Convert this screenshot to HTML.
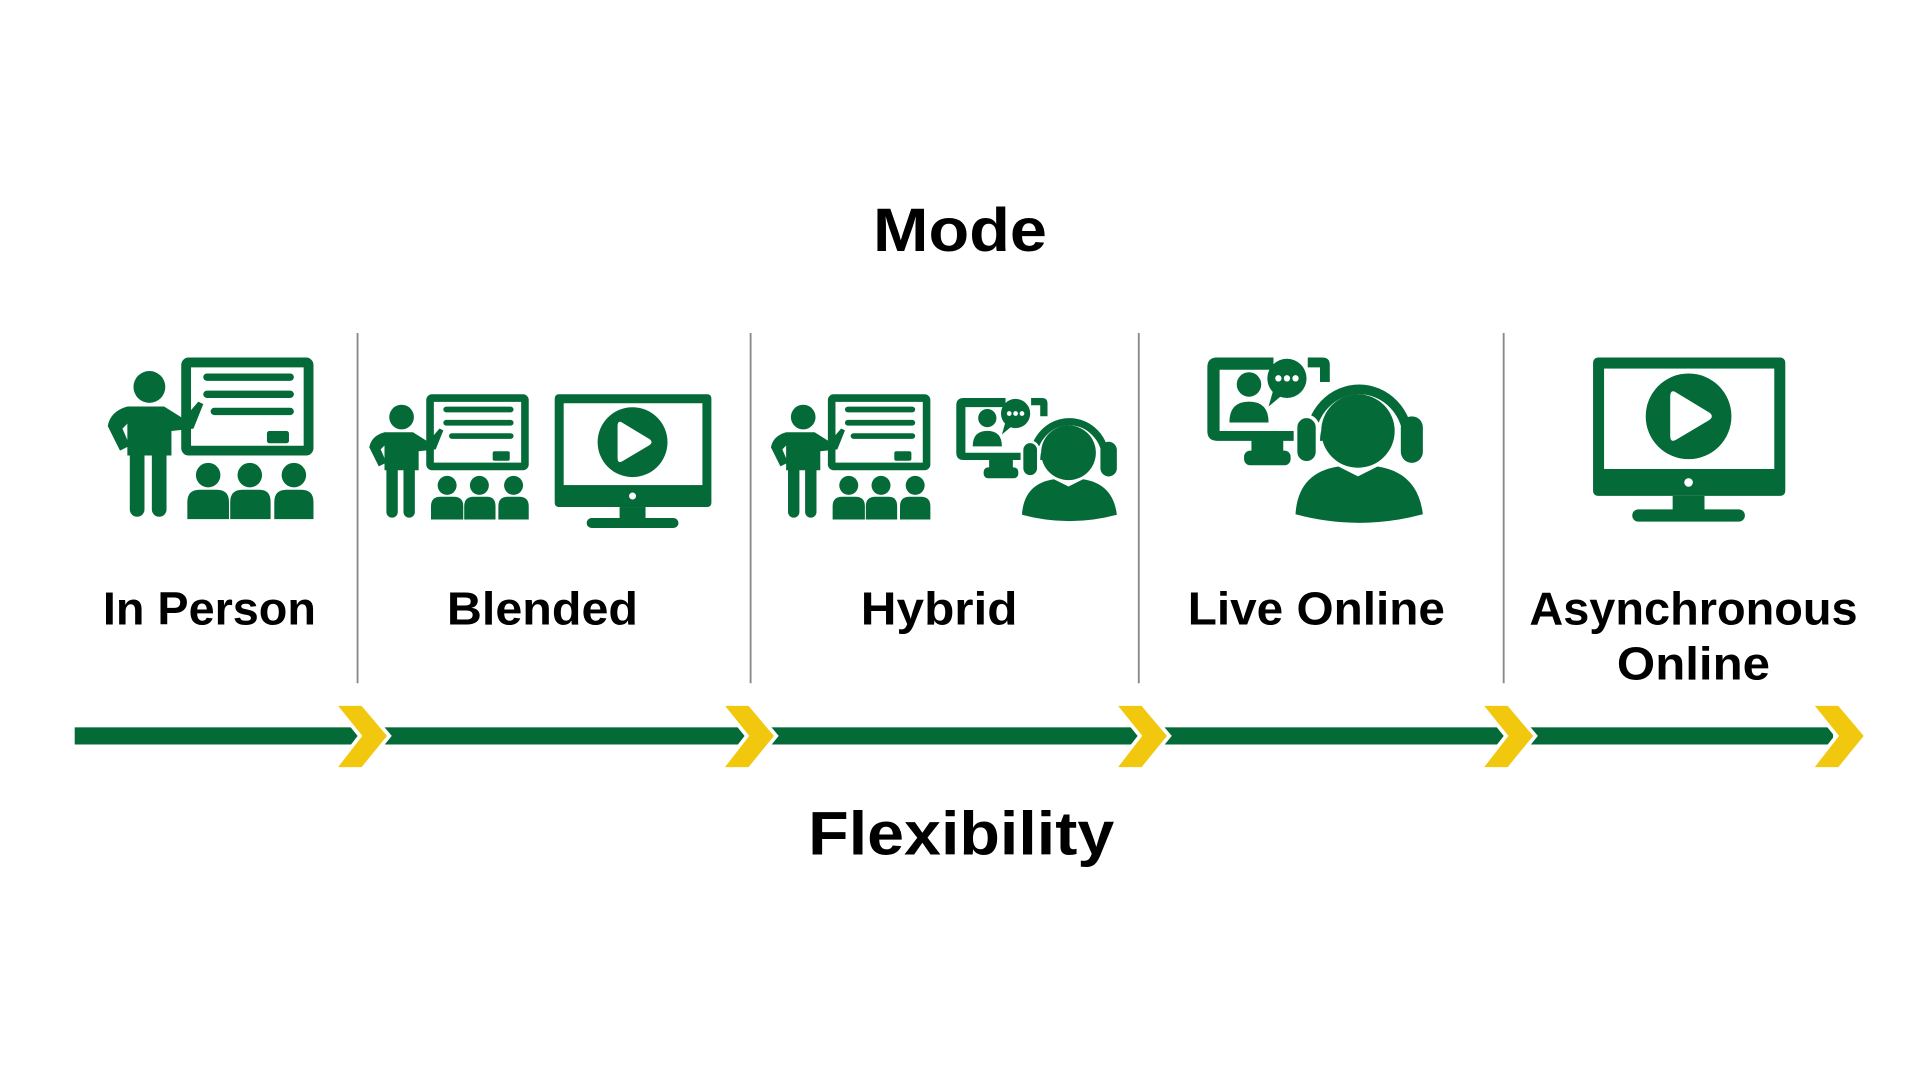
<!DOCTYPE html>
<html><head><meta charset="utf-8"><style>
html,body{margin:0;padding:0;background:#fff;width:1920px;height:1080px;overflow:hidden}
svg{display:block}
text{font-family:"Liberation Sans",Arial,sans-serif;font-weight:bold;fill:#000}
</style></head><body>
<svg width="1920" height="1080" viewBox="0 0 1568 882" xmlns="http://www.w3.org/2000/svg">
<defs>
<g id="teacher" fill="#046A38">
  <rect x="152" y="296" width="100" height="72" rx="2" fill="none" stroke="#046A38" stroke-width="8"/>
  <rect x="218" y="352" width="18" height="10" rx="2"/>
  <rect x="166" y="305" width="74" height="6" rx="3"/>
  <rect x="166" y="319" width="74" height="6" rx="3"/>
  <rect x="172" y="333" width="68" height="6" rx="3"/>
  <circle cx="122" cy="316" r="13"/>
  <path d="M104 332 L134 332 L150 342 L162 328 L166 330 L158 350 L140 352 L140 372 L104 372 Z"/>
  <path d="M104 332 Q90 336 88 348 L98 368 L106 364 L100 350 L106 344 Z"/>
  <rect x="106" y="366" width="12" height="56" rx="6"/>
  <rect x="124" y="366" width="12" height="56" rx="6"/>
  <circle cx="170" cy="388" r="10"/><circle cx="204" cy="388" r="10"/><circle cx="240" cy="388" r="10"/>
  <path d="M153 424 L153 410 Q153 400 163 400 L177 400 Q187 400 187 410 L187 424 Z"/>
  <path d="M188 424 L188 410 Q188 400 198 400 L212 400 Q221 400 221 410 L221 424 Z"/>
  <path d="M224 424 L224 410 Q224 400 234 400 L246 400 Q256 400 256 410 L256 424 Z"/>
</g>
<g id="monitor" fill="#046A38">
  <rect x="1301" y="292" width="157" height="113" rx="4"/>
  <rect x="1310" y="301" width="139" height="82" fill="#fff"/>
  <circle cx="1379" cy="394" r="3.5" fill="#fff"/>
  <rect x="1366" y="405" width="26" height="13"/>
  <rect x="1333" y="416" width="92" height="10" rx="5"/>
  <circle cx="1379" cy="340" r="35"/>
  <path d="M1368 320 Q1364 318 1364 324 L1364 356 Q1364 362 1369 359 L1396 343 Q1400 340 1396 337 Z" fill="#fff"/>
</g>
<g id="live" fill="#046A38">
  <path d="M1040 292 L994 292 Q986 292 986 300 L986 352 Q986 360 994 360 L1080 360 L1080 352 L996 352 L996 302 L1040 302 Z"/>
  <path d="M1068 292 L1080 292 Q1086 292 1086 298 L1086 312 L1078 312 L1078 300 L1068 300 Z"/>
  <rect x="1022" y="358" width="26" height="14"/>
  <rect x="1016" y="368" width="38" height="12" rx="5"/>
  <circle cx="1020" cy="314" r="10"/>
  <path d="M1004 345 Q1004 328 1020 328 Q1036 328 1036 345 Z"/>
  <circle cx="1051" cy="309" r="16"/>
  <path d="M1040 318 L1036 332 L1048 322 Z"/>
  <circle cx="1044" cy="309" r="2.6" fill="#fff"/><circle cx="1051" cy="309" r="2.6" fill="#fff"/><circle cx="1058" cy="309" r="2.6" fill="#fff"/>
  <path d="M1070 360 A40 42 0 0 1 1150 360" fill="none" stroke="#fff" stroke-width="16"/>
  <path d="M1070 360 A40 42 0 0 1 1150 360" fill="none" stroke="#046A38" stroke-width="8"/>
  <rect x="1058" y="340" width="18" height="38" rx="9" stroke="#fff" stroke-width="3"/>
  <rect x="1144" y="340" width="18" height="38" rx="9"/>
  <circle cx="1109" cy="352" r="30"/>
  <path d="M1058 420 Q1060 386 1093 381 L1109 389 L1125 381 Q1158 386 1162 420 Q1110 434 1058 420 Z"/>
</g>
</defs>

<text x="784" y="205" text-anchor="middle" font-size="50" textLength="142" lengthAdjust="spacingAndGlyphs">Mode</text>

<g stroke="#888" stroke-width="1.5">
<line x1="292" y1="272" x2="292" y2="558"/>
<line x1="613" y1="272" x2="613" y2="558"/>
<line x1="930" y1="272" x2="930" y2="558"/>
<line x1="1228" y1="272" x2="1228" y2="558"/>
</g>

<use href="#teacher"/>
<use href="#teacher" transform="translate(233.4,95.7) scale(0.775)"/>
<use href="#monitor" transform="translate(-607.3,84) scale(0.815)"/>
<use href="#teacher" transform="translate(561.4,95.7) scale(0.775)"/>
<use href="#live" transform="translate(46.4,107.5) scale(0.745)"/>
<use href="#live"/>
<use href="#monitor"/>

<g font-size="38">
<text x="171" y="510" text-anchor="middle" textLength="174" lengthAdjust="spacingAndGlyphs">In Person</text>
<text x="443" y="510" text-anchor="middle" textLength="156" lengthAdjust="spacingAndGlyphs">Blended</text>
<text x="767" y="510" text-anchor="middle" textLength="128" lengthAdjust="spacingAndGlyphs">Hybrid</text>
<text x="1075" y="510" text-anchor="middle" textLength="210" lengthAdjust="spacingAndGlyphs">Live Online</text>
<text x="1383" y="510" text-anchor="middle" textLength="268" lengthAdjust="spacingAndGlyphs">Asynchronous</text>
<text x="1383" y="555" text-anchor="middle" textLength="125" lengthAdjust="spacingAndGlyphs">Online</text>
</g>

<rect x="61" y="594" width="1436" height="14" fill="#046A38"/>
<g fill="#F1C80E" stroke="#fff" stroke-width="3">
<path d="M273 575 L296 575 L318 601 L296 628 L273 628 L294 601 Z"/>
<path d="M589 575 L612 575 L634 601 L612 628 L589 628 L610 601 Z"/>
<path d="M910 575 L933 575 L955 601 L933 628 L910 628 L931 601 Z"/>
<path d="M1209 575 L1232 575 L1254 601 L1232 628 L1209 628 L1230 601 Z"/>
<path d="M1479 575 L1502 575 L1524 601 L1502 628 L1479 628 L1500 601 Z"/>
</g>

<text x="785" y="698" text-anchor="middle" font-size="50" textLength="250" lengthAdjust="spacingAndGlyphs">Flexibility</text>
</svg>
</body></html>
